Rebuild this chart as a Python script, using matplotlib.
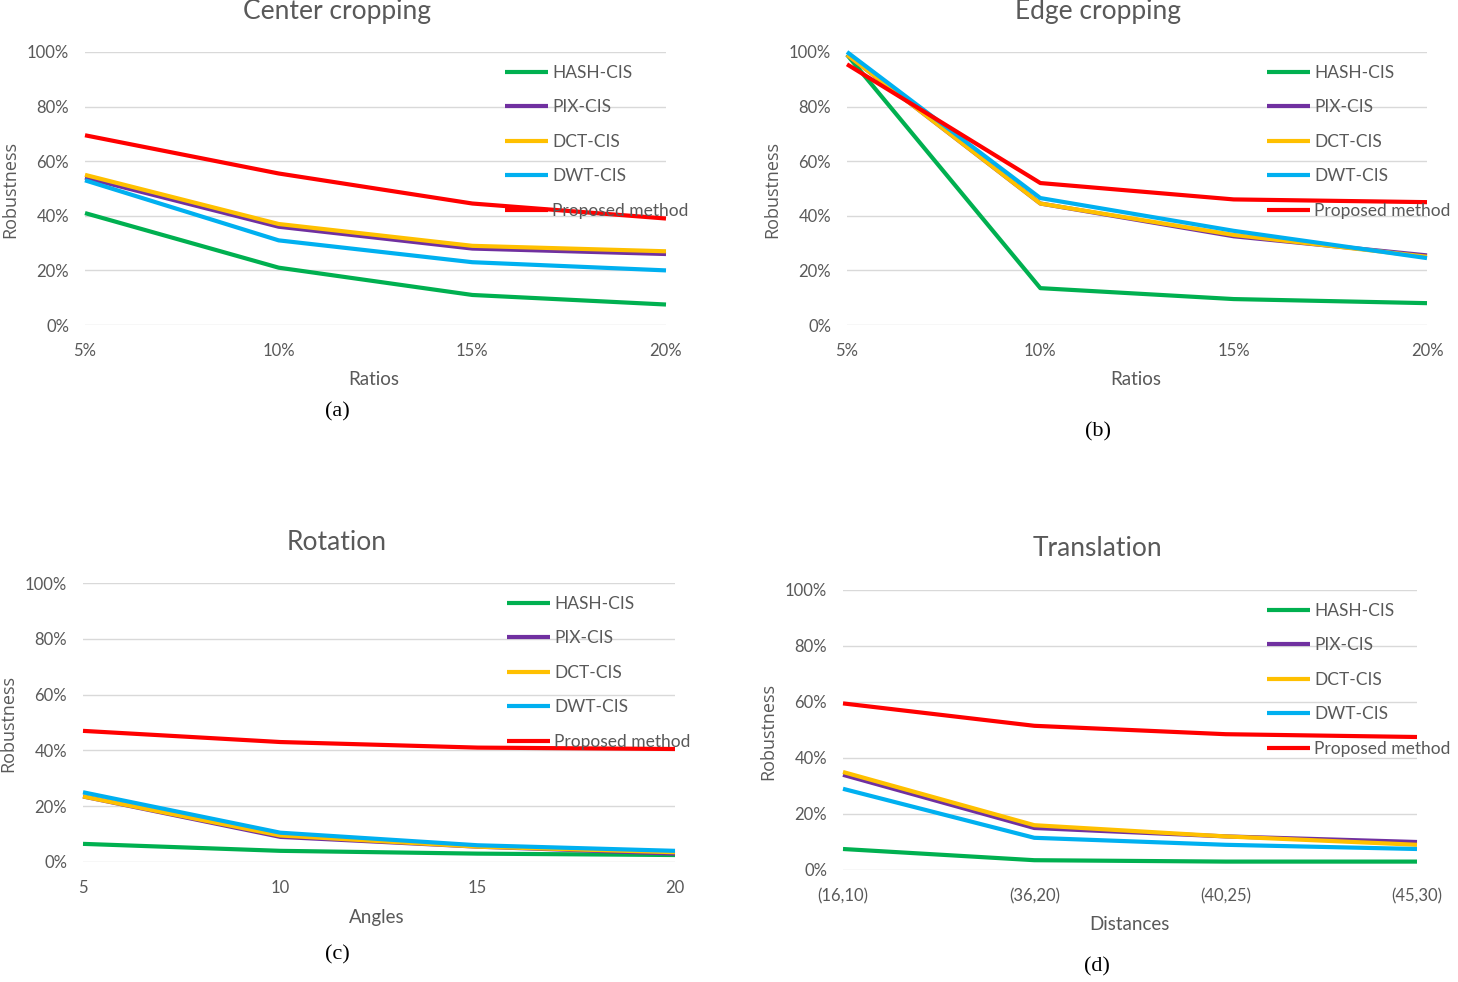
import matplotlib
matplotlib.use('Agg')
import matplotlib.pyplot as plt
from matplotlib.ticker import PercentFormatter

# 設定
W, H = 1458, 982
plt.rcParams['font.family'] = ['Lato', 'DejaVu Sans']

series_names = ['HASH-CIS', 'PIX-CIS', 'DCT-CIS', 'DWT-CIS', 'Proposed method']
colors = ['#00B050', '#7030A0', '#FFC000', '#00B0F0', '#FF0000']

ratios = ['5%', '10%', '15%', '20%']
angles = ['5', '10', '15', '20']
distances = ['(16,10)', '(36,20)', '(40,25)', '(45,30)']

# (a) Center cropping
center_hash = [41, 21, 11, 7.5]
center_pix = [54, 36, 28, 26]
center_dct = [55, 37, 29, 27]
center_dwt = [53, 31, 23, 20]
center_prop = [69.5, 55.5, 44.5, 39]

# (b) Edge cropping
edge_hash = [99, 13.5, 9.5, 8]
edge_pix = [99, 44.5, 32.5, 25.5]
edge_dct = [99, 44.5, 33, 25]
edge_dwt = [100, 46.5, 34.5, 24.5]
edge_prop = [95.5, 52, 46, 45]

# (c) Rotation
rot_hash = [6.5, 4, 3, 2.5]
rot_pix = [23.5, 9, 5.5, 3]
rot_dct = [23.5, 9.5, 5.5, 3.5]
rot_dwt = [25, 10.5, 6, 4]
rot_prop = [47, 43, 41, 40.5]

# (d) Translation
trans_hash = [7.5, 3.5, 3, 3]
trans_pix = [34, 15, 12, 10]
trans_dct = [35, 16, 12, 9]
trans_dwt = [29, 11.5, 9, 7.5]
trans_prop = [59.5, 51.5, 48.5, 47.5]

fig = plt.figure(figsize=(W / 100, H / 100), dpi=100)


def fx(px):
    return px / W


def fy(py):
    return 1 - py / H


def panel(box, xlabels, data, title, title_xy, ylab_xy, xlab, xlab_xy, tag, tag_xy, leg_xy):
    x0, y0, x1, y1 = box
    ax = fig.add_axes([fx(x0), fy(y1), (x1 - x0) / W, (y1 - y0) / H])
    xs = list(range(len(xlabels)))
    for vals, name, c in zip(data, series_names, colors):
        ax.plot(xs, vals, color=c, lw=3.0, label=name, solid_capstyle='butt', clip_on=False)
    ax.set_xlim(0, len(xlabels) - 1)
    ax.set_ylim(0, 100)
    ax.set_yticks(range(0, 101, 20))
    ax.yaxis.set_major_formatter(PercentFormatter(decimals=0))
    ax.set_xticks(xs)
    ax.set_xticklabels(xlabels)
    ax.grid(axis='y', color='#D9D9D9', lw=1)
    ax.set_axisbelow(True)
    for s in ax.spines.values():
        s.set_visible(False)
    ax.tick_params(length=0, labelsize=12, labelcolor='#595959')
    ax.tick_params(axis='x', pad=13)
    ax.tick_params(axis='y', pad=11.5)

    fig.text(fx(title_xy[0]), fy(title_xy[1]), title, ha='center', va='center',
             fontsize=19, color='#595959')
    fig.text(fx(ylab_xy[0]), fy(ylab_xy[1]), 'Robustness', ha='center', va='center',
             rotation=90, fontsize=13, color='#595959', family='Open Sans')
    fig.text(fx(xlab_xy[0]), fy(xlab_xy[1]), xlab, ha='center', va='center',
             fontsize=13.5, color='#595959')
    fig.text(fx(tag_xy[0]), fy(tag_xy[1]), tag, ha='center', va='center',
             fontsize=16, family='Liberation Serif', color='black')

    leg = ax.legend(loc='upper left', bbox_to_anchor=(fx(leg_xy[0]), fy(leg_xy[1])),
                    bbox_transform=fig.transFigure, frameon=False, borderpad=0,
                    borderaxespad=0, handlelength=2.5, handletextpad=0.2,
                    labelspacing=1.06, fontsize=12.5)
    for t in leg.get_texts():
        t.set_color('#595959')
    return ax


panel((85, 52, 666, 325), ratios,
      [center_hash, center_pix, center_dct, center_dwt, center_prop],
      'Center cropping', (337, 12), (10, 190), 'Ratios', (374, 380), '(a)', (337, 412), (505, 65))

panel((847, 52, 1427, 325), ratios,
      [edge_hash, edge_pix, edge_dct, edge_dwt, edge_prop],
      'Edge cropping', (1098, 12), (772, 190), 'Ratios', (1136, 380), '(b)', (1098, 432), (1267, 65))

panel((83, 583, 675, 862), angles,
      [rot_hash, rot_pix, rot_dct, rot_dwt, rot_prop],
      'Rotation', (337, 542), (8, 723), 'Angles', (377, 917), '(c)', (337, 955), (507, 596))

panel((843, 590, 1417, 870), distances,
      [trans_hash, trans_pix, trans_dct, trans_dwt, trans_prop],
      'Translation', (1097, 549), (768, 731), 'Distances', (1129, 925), '(d)', (1097, 967), (1267, 603))

fig.savefig('out.png', dpi=100)
